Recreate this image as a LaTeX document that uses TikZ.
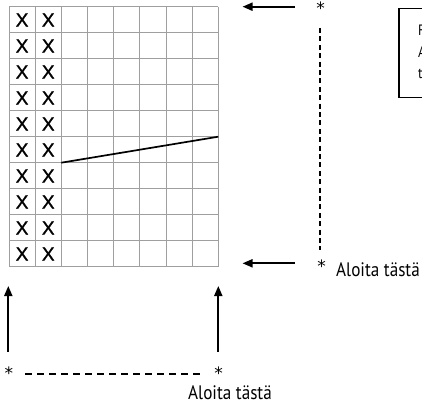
\documentclass[tikz,border=0pt]{standalone}
\usepackage{fontspec}
\setmainfont{PT Sans}
\newfontfamily\xfont[FakeBold=1.3]{Liberation Sans}
\newfontfamily\labfont[FakeStretch=0.88]{PT Sans}
\newfontfamily\starfont{DejaVu Sans}
\usetikzlibrary{arrows.meta}
\begin{document}
\begin{tikzpicture}[x=1pt,y=-1pt,
  gridline/.style={draw=gray!75, line width=0.9pt},
  xmark/.style={font=\xfont\fontsize{19}{19}\selectfont, inner sep=0},
  arrowline/.style={line width=1.9pt, -{Triangle[length=10pt,width=8pt]}},
  starmark/.style={font=\starfont\fontsize{17}{17}\selectfont, inner sep=0},
  lab/.style={font=\labfont\fontsize{19.5}{19.5}\selectfont, inner sep=0, anchor=base west},
  boxtext/.style={font=\labfont\fontsize{15}{15}\selectfont, inner sep=0, anchor=base west},
  dashv/.style={line width=1.1pt, dash pattern=on 5pt off 3.4pt},
  dashh/.style={line width=1.1pt, dash pattern=on 7pt off 5pt}
]
\useasboundingbox (0,0) rectangle (422,412);
\clip (0,0) rectangle (422,412);
% grid
\foreach \i in {0,...,8} \draw[gridline] (9+26.16*\i,6.7) -- ++(0,260);
\foreach \j in {0,...,10} \draw[gridline] (9,6.7+26*\j) -- ++(209.3,0);
% X marks
\foreach \r in {0,...,9} \foreach \c in {0,1}
  \node[xmark] (x\r\c) at (9+26.16*\c+13.08, 6.7+26*\r+13.3) {X};
% diagonal
\coordinate (d0) at (61.3,162.7);
\coordinate (d1) at (218.3,136.7);
\draw[line width=1.7pt] (d0) -- (d1);
% top arrow and star
\coordinate (ta0) at (295,6.7);
\coordinate (ta1) at (242.5,6.7);
\draw[arrowline] (ta0) -- (ta1);
\node[starmark] (s1) at (320.5,8.5) {*};
\coordinate (v0) at (320,28);
\coordinate (v1) at (320,250);
\draw[dashv] (v0) -- (v1);
% middle arrow, star, label
\coordinate (ma0) at (295,263.3);
\coordinate (ma1) at (242.5,263.3);
\draw[arrowline] (ma0) -- (ma1);
\node[starmark] (s2) at (321.5,266) {*};
\node[lab] (l1) at (336,276.7) {Aloita tästä};
% bottom arrows
\coordinate (ba0) at (8.3,351.7);
\coordinate (ba1) at (8.3,286);
\draw[arrowline] (ba0) -- (ba1);
\coordinate (bb0) at (218.3,351.7);
\coordinate (bb1) at (218.3,286);
\draw[arrowline] (bb0) -- (bb1);
\node[starmark] (s3) at (9,373.5) {*};
\node[starmark] (s4) at (218.5,373.5) {*};
\draw[dashh] (25,374) -- (202,374);
\node[lab] (l2) at (188,399.3) {Aloita tästä};
% box
\node[draw, line width=1.2pt, anchor=north west, minimum width=120pt, minimum height=88.4pt, inner sep=0] (box) at (398.3,8.3) {};
\node[boxtext] (t1) at (418,36) {F};
\node[boxtext] (t2) at (418,57) {A};
\node[boxtext] (t3) at (418,78) {t};
\end{tikzpicture}
\end{document}
